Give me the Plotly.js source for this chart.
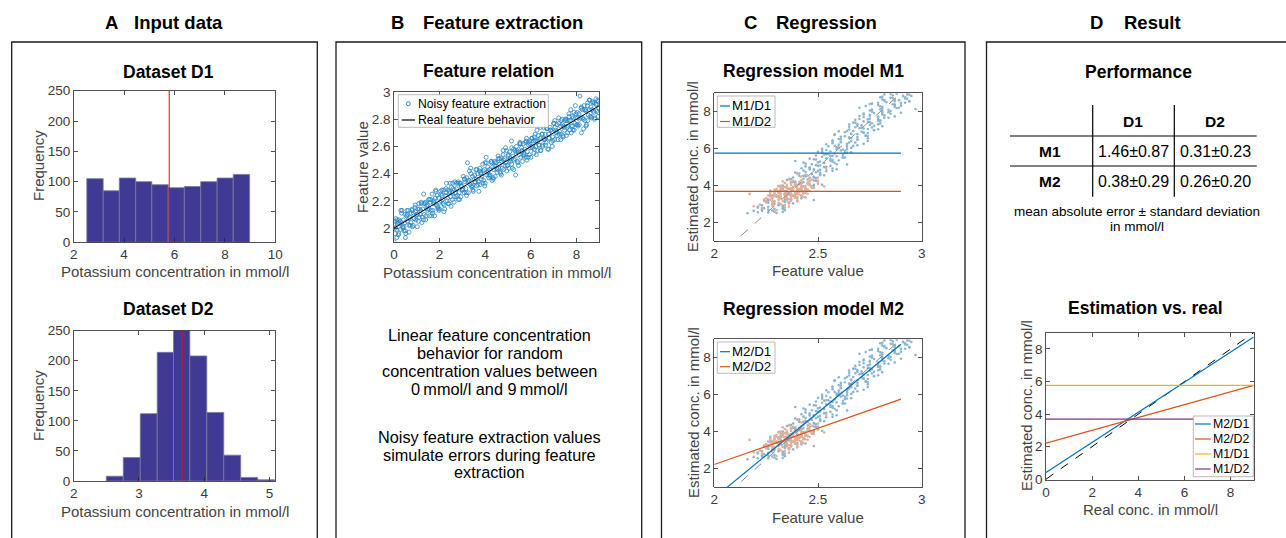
<!DOCTYPE html>
<html><head><meta charset="utf-8">
<script src="https://cdn.plot.ly/plotly-3.0.1.min.js"></script>
<style>html,body{margin:0;padding:0;background:#fff;}#chart{width:1286px;height:538px;}</style>
</head><body><div id="chart"></div>
<script>
// ---------------- DATA ----------------
// Histogram D1 (uniform concentrations)
const d1Edges  = [2.52, 3.17, 3.81, 4.46, 5.10, 5.75, 6.39, 7.04, 7.69, 8.33, 8.98];
const d1Counts = [105, 85, 106, 100, 95, 90, 92, 100, 106, 112];
const d1Mean   = 5.79;
// Histogram D2 (normal concentrations)
const d2Edges  = [2.50, 2.76, 3.02, 3.28, 3.53, 3.78, 4.04, 4.30, 4.56, 4.82, 5.08];
const d2Counts = [8, 39, 112, 214, 254, 208, 114, 43, 6, 2];
const d2Mean   = 3.66;

// Feature relation: noisy extraction (concentration, feature value)
const featConc = [
0.02,0.05,0.08,0.12,0.15,0.19,0.22,0.26,0.29,0.33,
0.37,0.41,0.44,0.48,0.52,0.55,0.59,0.63,0.66,0.70,
0.74,0.78,0.81,0.85,0.89,0.92,0.96,1.00,1.04,1.07,
1.11,1.15,1.19,1.22,1.26,1.30,1.33,1.37,1.41,1.44,
1.48,1.52,1.56,1.59,1.63,1.67,1.70,1.74,1.78,1.81,
1.85,1.89,1.93,1.96,2.00,2.04,2.07,2.11,2.15,2.19,
2.22,2.26,2.30,2.33,2.37,2.41,2.44,2.48,2.52,2.56,
2.59,2.63,2.67,2.70,2.74,2.78,2.81,2.85,2.89,2.93,
2.96,3.00,3.04,3.07,3.11,3.15,3.19,3.22,3.26,3.30,
3.33,3.37,3.41,3.44,3.48,3.52,3.56,3.59,3.63,3.67,
3.70,3.74,3.78,3.81,3.85,3.89,3.93,3.96,4.00,4.04,
4.07,4.11,4.15,4.19,4.22,4.26,4.30,4.33,4.37,4.41,
4.44,4.48,4.52,4.56,4.59,4.63,4.67,4.70,4.74,4.78,
4.81,4.85,4.89,4.93,4.96,5.00,5.04,5.07,5.11,5.15,
5.19,5.22,5.26,5.30,5.33,5.37,5.41,5.44,5.48,5.52,
5.56,5.59,5.63,5.67,5.70,5.74,5.78,5.81,5.85,5.89,
5.93,5.96,6.00,6.04,6.07,6.11,6.15,6.19,6.22,6.26,
6.30,6.33,6.37,6.41,6.44,6.48,6.52,6.56,6.59,6.63,
6.67,6.70,6.74,6.78,6.81,6.85,6.89,6.93,6.96,7.00,
7.04,7.07,7.11,7.15,7.19,7.22,7.26,7.30,7.33,7.37,
7.41,7.44,7.48,7.52,7.56,7.59,7.63,7.67,7.70,7.74,
7.78,7.81,7.85,7.89,7.93,7.96,8.00,8.04,8.07,8.11,
8.15,8.19,8.22,8.26,8.30,8.33,8.37,8.41,8.44,8.48,
8.52,8.56,8.59,8.63,8.67,8.70,8.74,8.78,8.81,8.85,
8.89,8.93,8.96,0.00,0.50,
0.06,0.13,0.21,0.28,0.35,0.43,0.50,0.57,0.65,0.72,
0.80,0.87,0.94,1.02,1.09,1.17,1.24,1.31,1.39,1.46,
1.54,1.61,1.69,1.76,1.83,1.91,1.98,2.06,2.13,2.20,
2.28,2.35,2.43,2.50,2.57,2.65,2.72,2.80,2.87,2.94,
3.02,3.09,3.17,3.24,3.31,3.39,3.46,3.54,3.61,3.68,
3.76,3.83,3.91,3.98,4.05,4.13,4.20,4.28,4.35,4.42,
4.50,4.57,4.65,4.72,4.79,4.87,4.94,5.02,5.09,5.16,
5.24,5.31,5.39,5.46,5.53,5.61,5.68,5.76,5.83,5.90,
5.98,6.05,6.13,6.20,6.27,6.35,6.42,6.50,6.57,6.64,
6.72,6.79,6.87,6.94,7.01,7.09,7.16,7.24,7.31,7.38,
7.46,7.53,7.61,7.68,7.75,7.83,7.90,7.98,8.05,8.12,
8.20,8.27,8.35,8.42,8.49,8.57,8.64,8.72,8.79,8.86,
8.94,8.98,
0.03,0.12,0.21,0.30,0.39,0.48,0.57,0.66,0.75,0.84,
0.93,1.02,1.11,1.20,1.29,1.38,1.47,1.56,1.65,1.74,
1.83,1.92,2.01,2.10,2.19,2.28,2.37,2.46,2.55,2.64,
2.73,2.82,2.91,3.00,3.09,3.18,3.27,3.36,3.45,3.54,
3.63,3.72,3.81,3.90,3.99,4.08,4.17,4.26,4.35,4.44,
4.53,4.62,4.71,4.80,4.89,4.98,5.07,5.16,5.25,5.34,
5.43,5.52,5.61,5.70,5.79,5.88,5.97,6.06,6.15,6.24,
6.33,6.42,6.51,6.60,6.69,6.78,6.87,6.96,7.05,7.14,
7.23,7.32,7.41,7.50,7.59,7.68,7.77,7.86,7.95,8.04,
8.13,8.22,8.31,8.40,8.49,8.58,8.67,8.76,8.85,8.94];
const featValue = [
2.03,1.96,2.07,1.99,2.03,1.95,2.06,2.03,1.99,2.11,
2.01,2.06,1.98,2.10,1.96,2.09,2.05,2.13,2.02,2.08,
2.04,2.13,2.01,2.11,2.07,2.15,2.06,2.10,2.14,2.05,
2.14,2.10,2.19,2.04,2.14,2.25,2.10,2.19,2.09,2.16,
2.14,2.21,2.09,2.19,2.13,2.25,2.13,2.18,2.09,2.22,
2.17,2.24,2.14,2.22,2.14,2.27,2.20,2.24,2.18,2.28,
2.14,2.24,2.33,2.20,2.28,2.18,2.26,2.23,2.30,2.21,
2.29,2.19,2.34,2.26,2.29,2.24,2.34,2.26,2.33,2.23,
2.31,2.28,2.38,2.26,2.34,2.29,2.37,2.48,2.26,2.35,
2.32,2.40,2.30,2.38,2.27,2.36,2.34,2.43,2.31,2.40,
2.34,2.42,2.32,2.40,2.38,2.47,2.35,2.43,2.33,2.52,
2.39,2.45,2.37,2.43,2.39,2.49,2.35,2.45,2.43,2.49,
2.38,2.48,2.41,2.53,2.44,2.47,2.40,2.51,2.44,2.54,
2.43,2.51,2.48,2.57,2.46,2.53,2.44,2.56,2.49,2.64,
2.44,2.53,2.50,2.57,2.39,2.60,2.49,2.56,2.54,2.62,
2.52,2.59,2.49,2.62,2.55,2.58,2.52,2.66,2.56,2.63,
2.54,2.62,2.52,2.66,2.60,2.64,2.58,2.69,2.60,2.64,
2.57,2.68,2.61,2.66,2.57,2.69,2.60,2.74,2.65,2.69,
2.63,2.73,2.58,2.69,2.66,2.74,2.63,2.71,2.67,2.77,
2.65,2.74,2.70,2.76,2.65,2.81,2.71,2.75,2.69,2.80,
2.68,2.75,2.72,2.80,2.68,2.79,2.75,2.84,2.72,2.79,
2.75,2.82,2.72,2.85,2.77,2.81,2.76,2.85,2.75,2.84,
2.97,2.81,2.70,2.87,2.80,2.90,2.79,2.86,2.76,2.90,
2.83,2.94,2.82,2.89,2.81,2.93,2.86,2.92,2.81,2.91,
2.86,2.94,2.85,1.90,1.93,
2.00,2.06,1.96,2.05,2.13,2.01,1.98,2.10,2.07,2.02,
2.14,2.07,2.12,2.01,2.18,2.13,2.08,2.18,2.06,2.17,
2.14,2.21,2.11,2.20,2.27,2.16,2.13,2.25,2.21,2.17,
2.29,2.22,2.27,2.16,2.33,2.28,2.23,2.33,2.21,2.31,
2.29,2.36,2.26,2.34,2.42,2.31,2.28,2.39,2.36,2.32,
2.44,2.36,2.42,2.31,2.48,2.42,2.38,2.48,2.36,2.46,
2.44,2.51,2.41,2.49,2.57,2.46,2.42,2.54,2.51,2.47,
2.58,2.51,2.57,2.46,2.62,2.57,2.53,2.63,2.50,2.61,
2.59,2.66,2.55,2.64,2.72,2.61,2.57,2.69,2.66,2.61,
2.73,2.66,2.72,2.60,2.77,2.72,2.68,2.77,2.65,2.76,
2.74,2.80,2.70,2.79,2.87,2.75,2.72,2.84,2.81,2.76,
2.88,2.81,2.87,2.75,2.92,2.87,2.82,2.92,2.80,2.91,
2.93,2.88,
2.05,1.93,2.04,2.13,2.00,2.04,2.13,1.97,2.11,2.02,
2.17,2.10,2.08,2.18,2.06,2.18,2.13,2.21,2.09,2.19,
2.28,2.15,2.19,2.28,2.12,2.26,2.18,2.33,2.26,2.23,
2.33,2.21,2.33,2.28,2.36,2.24,2.35,2.44,2.31,2.34,
2.43,2.27,2.41,2.33,2.48,2.41,2.39,2.49,2.37,2.48,
2.43,2.51,2.39,2.50,2.59,2.46,2.50,2.59,2.43,2.56,
2.48,2.63,2.56,2.54,2.64,2.52,2.64,2.59,2.67,2.54,
2.65,2.74,2.61,2.65,2.74,2.58,2.72,2.64,2.79,2.71,
2.69,2.79,2.67,2.79,2.74,2.82,2.70,2.81,2.90,2.76,
2.80,2.89,2.73,2.87,2.79,2.94,2.87,2.85,2.95,2.82];
// Real (noise-free) feature behaviour
const realConc  = [0, 9];
const realValue = [2.0, 2.9];

// Dataset D2 samples (concentration, noisy feature value)
const d2Conc = [
2.68,2.80,2.86,2.91,2.95,2.98,3.01,3.03,3.05,3.07,
3.09,3.10,3.12,3.14,3.15,3.17,3.18,3.20,3.21,3.23,
3.24,3.25,3.26,3.27,3.29,3.30,3.30,3.31,3.32,3.33,
3.34,3.35,3.36,3.36,3.37,3.38,3.39,3.40,3.41,3.41,
3.42,3.43,3.44,3.45,3.45,3.46,3.47,3.48,3.48,3.49,
3.50,3.50,3.51,3.52,3.52,3.53,3.54,3.54,3.55,3.56,
3.56,3.57,3.58,3.58,3.59,3.60,3.60,3.61,3.62,3.62,
3.63,3.64,3.64,3.65,3.66,3.66,3.67,3.68,3.68,3.69,
3.70,3.70,3.71,3.72,3.72,3.73,3.74,3.74,3.75,3.76,
3.76,3.77,3.77,3.78,3.79,3.80,3.80,3.81,3.82,3.83,
3.84,3.84,3.85,3.86,3.87,3.88,3.88,3.89,3.90,3.91,
3.92,3.92,3.93,3.94,3.95,3.96,3.96,3.97,3.98,3.99,
4.00,4.01,4.02,4.03,4.04,4.05,4.07,4.08,4.10,4.11,
4.13,4.14,4.16,4.17,4.19,4.20,4.22,4.23,4.25,4.26,
4.28,4.29,4.32,4.36,4.40,4.44,4.49,4.54,4.63,4.90,
3.55,2.88,3.95];
const d2Feat = [
2.30,2.23,2.36,2.28,2.34,2.22,2.32,2.36,2.28,2.31,
2.25,2.36,2.29,2.40,2.28,2.33,2.25,2.35,2.40,2.27,
2.31,2.37,2.24,2.36,2.28,2.40,2.32,2.37,2.25,2.35,
2.39,2.31,2.34,2.28,2.39,2.32,2.43,2.30,2.35,2.27,
2.37,2.42,2.29,2.34,2.39,2.26,2.38,2.30,2.42,2.34,
2.39,2.27,2.37,2.41,2.32,2.35,2.29,2.40,2.34,2.45,
2.32,2.37,2.29,2.39,2.44,2.31,2.35,2.40,2.27,2.39,
2.31,2.43,2.35,2.41,2.29,2.39,2.43,2.34,2.37,2.31,
2.42,2.35,2.46,2.33,2.38,2.30,2.40,2.45,2.33,2.37,
2.42,2.29,2.41,2.33,2.45,2.37,2.42,2.30,2.40,2.44,
2.35,2.38,2.33,2.44,2.37,2.48,2.35,2.40,2.32,2.42,
2.47,2.34,2.38,2.43,2.31,2.43,2.35,2.47,2.39,2.44,
2.32,2.42,2.46,2.37,2.40,2.35,2.46,2.39,2.50,2.37,
2.42,2.34,2.45,2.50,2.37,2.41,2.46,2.33,2.46,2.38,
2.50,2.42,2.47,2.36,2.46,2.50,2.42,2.45,2.40,2.54,
2.17,2.19,2.53];

// Regression model outputs, evaluated at feature values 2.0 and 2.9
// (= real concentrations 0 and 9 mmol/l)
const featEnds = [2.0, 2.9];
const concEnds = [0, 9];
const m1d1Est = [5.76, 5.76];
const m1d2Est = [3.69, 3.69];
const m2d1Est = [0.41, 8.73];
const m2d2Est = [2.22, 5.76];

// Performance table
const tableCols = ['D1', 'D2'];
const tableRows = ['M1', 'M2'];
const tableVals = [['1.46±0.87', '0.31±0.23'], ['0.38±0.29', '0.26±0.20']];

// Axis ticks
const d1Ticks = [2, 4, 6, 8, 10];
const d2Ticks = [2, 3, 4, 5];
const freqTicks = [0, 50, 100, 150, 200, 250];
const concTicks = [0, 2, 4, 6, 8];
const featTicks = [2, 2.2, 2.4, 2.6, 2.8, 3];
const regXTicks = [2, 2.5, 3];
const regYTicks = [2, 4, 6, 8];
const estYTicks = [0, 2, 4, 6, 8];

// ---------------- LAYOUT HELPERS ----------------
const W = 1286, H = 538;
const PX = x => x / W, PY = y => 1 - y / H;
const domX = (a, b) => [a / W, b / W];
const domY = (top, bottom) => [1 - bottom / H, 1 - top / H];
const FONT = '"Liberation Sans", Arial, Helvetica, sans-serif';
const BLUE = '#0072BD', ORANGE = '#D95319', YELLOW = '#EDB120', PURPLE = '#7E2F8E';

const centers = e => e.slice(0, -1).map((v, i) => (v + e[i + 1]) / 2);
const widths  = e => e.slice(0, -1).map((v, i) => e[i + 1] - v);

function ax(extra) {
  return Object.assign({
    showline: true, linecolor: '#262626', linewidth: 0.8, mirror: 'ticks',
    ticks: 'inside', ticklen: 4, tickcolor: '#262626', tickwidth: 0.8,
    showgrid: false, zeroline: false, fixedrange: true,
    tickfont: {family: FONT, size: 13.5, color: '#3a3a3a'}
  }, extra);
}

const d1FeatVals = featValue.filter((v, i) => featConc[i] >= 2.5);
const d1ConcVals = featConc.filter(v => v >= 2.5);

const barStyle = {color: '#3f3a94', line: {color: '#7a7a9c', width: 0.8}};
const ptsD1 = {size: 2.6, color: '#8bb6d0', symbol: 'circle'};
const ptsD2 = {size: 2.6, color: '#e3ae97', symbol: 'circle'};

const traces = [
  // A: histograms
  {type: 'bar', x: centers(d1Edges), y: d1Counts, width: widths(d1Edges), marker: barStyle,
   xaxis: 'x', yaxis: 'y', showlegend: false, hoverinfo: 'skip'},
  {type: 'scatter', mode: 'lines', x: [d1Mean, d1Mean], y: [0, 250], line: {color: '#ff0000', width: 1},
   xaxis: 'x', yaxis: 'y', showlegend: false},
  {type: 'bar', x: centers(d2Edges), y: d2Counts, width: widths(d2Edges), marker: barStyle,
   xaxis: 'x2', yaxis: 'y2', showlegend: false, hoverinfo: 'skip'},
  {type: 'scatter', mode: 'lines', x: [d2Mean, d2Mean], y: [0, 250], line: {color: '#ff0000', width: 1},
   xaxis: 'x2', yaxis: 'y2', showlegend: false},
  // B: feature relation
  {type: 'scatter', mode: 'markers', x: featConc, y: featValue, name: 'Noisy feature extraction',
   marker: {symbol: 'circle-open', size: 4, color: BLUE, line: {width: 0.8}}, opacity: 0.85,
   xaxis: 'x3', yaxis: 'y3', showlegend: false},
  {type: 'scatter', mode: 'lines', x: realConc, y: realValue, name: 'Real feature behavior',
   line: {color: '#000000', width: 1}, xaxis: 'x3', yaxis: 'y3', showlegend: false},
  // C: regression M1
  {type: 'scatter', mode: 'markers', x: d1FeatVals, y: d1ConcVals, marker: ptsD1,
   xaxis: 'x4', yaxis: 'y4', showlegend: false},
  {type: 'scatter', mode: 'markers', x: d2Feat, y: d2Conc, marker: ptsD2,
   xaxis: 'x4', yaxis: 'y4', showlegend: false},
  {type: 'scatter', mode: 'lines', x: featEnds, y: concEnds, line: {color: '#8c8c8c', width: 1, dash: 'dash'},
   xaxis: 'x4', yaxis: 'y4', showlegend: false},
  {type: 'scatter', mode: 'lines', x: featEnds, y: m1d1Est, name: 'M1/D1', line: {color: BLUE, width: 1.2},
   xaxis: 'x4', yaxis: 'y4', showlegend: false},
  {type: 'scatter', mode: 'lines', x: featEnds, y: m1d2Est, name: 'M1/D2', line: {color: ORANGE, width: 1.2},
   xaxis: 'x4', yaxis: 'y4', showlegend: false},
  // C: regression M2
  {type: 'scatter', mode: 'markers', x: d1FeatVals, y: d1ConcVals, marker: ptsD1,
   xaxis: 'x5', yaxis: 'y5', showlegend: false},
  {type: 'scatter', mode: 'markers', x: d2Feat, y: d2Conc, marker: ptsD2,
   xaxis: 'x5', yaxis: 'y5', showlegend: false},
  {type: 'scatter', mode: 'lines', x: featEnds, y: concEnds, line: {color: '#8c8c8c', width: 1, dash: 'dash'},
   xaxis: 'x5', yaxis: 'y5', showlegend: false},
  {type: 'scatter', mode: 'lines', x: featEnds, y: m2d1Est, name: 'M2/D1', line: {color: BLUE, width: 1.2},
   xaxis: 'x5', yaxis: 'y5', showlegend: false},
  {type: 'scatter', mode: 'lines', x: featEnds, y: m2d2Est, name: 'M2/D2', line: {color: ORANGE, width: 1.2},
   xaxis: 'x5', yaxis: 'y5', showlegend: false},
  // D: estimation vs real
  {type: 'scatter', mode: 'lines', x: concEnds, y: concEnds, line: {color: '#000000', width: 1, dash: 'dash'},
   xaxis: 'x6', yaxis: 'y6', showlegend: false},
  {type: 'scatter', mode: 'lines', x: concEnds, y: m2d1Est, name: 'M2/D1', line: {color: BLUE, width: 1.2},
   xaxis: 'x6', yaxis: 'y6', showlegend: false},
  {type: 'scatter', mode: 'lines', x: concEnds, y: m2d2Est, name: 'M2/D2', line: {color: ORANGE, width: 1.2},
   xaxis: 'x6', yaxis: 'y6', showlegend: false},
  {type: 'scatter', mode: 'lines', x: concEnds, y: m1d1Est, name: 'M1/D1', line: {color: YELLOW, width: 1.2},
   xaxis: 'x6', yaxis: 'y6', showlegend: false},
  {type: 'scatter', mode: 'lines', x: concEnds, y: m1d2Est, name: 'M1/D2', line: {color: PURPLE, width: 1.2},
   xaxis: 'x6', yaxis: 'y6', showlegend: false}
];

// ---------------- ANNOTATIONS ----------------
const ann = [];
function txt(x, y, text, size, opts) {
  ann.push(Object.assign({xref: 'paper', yref: 'paper', x: PX(x), y: PY(y), text: text, showarrow: false,
    xanchor: 'center', yanchor: 'middle', font: {family: FONT, size: size, color: '#000'}}, opts || {}));
}
const B = s => '<b>' + s + '</b>';
// Panel headers
txt(111, 22, B('A'), 18.5); txt(178, 22, B('Input data'), 18.5);
txt(397, 22, B('B'), 18.5); txt(503, 22, B('Feature extraction'), 18.5);
txt(750, 22, B('C'), 18.5); txt(826, 22, B('Regression'), 18.5);
txt(1096, 22, B('D'), 18.5); txt(1152, 22, B('Result'), 18.5);
// Subplot titles
txt(168, 72, B('Dataset D1'), 17.5);
txt(168, 309, B('Dataset D2'), 17.5);
txt(488, 71, B('Feature relation'), 17.5);
txt(813, 71, B('Regression model M1'), 17.5);
txt(813, 309, B('Regression model M2'), 17.5);
txt(1138, 72, B('Performance'), 17.5);
txt(1145, 308, B('Estimation vs. real'), 17.5);
// Axis titles
const axT = (x, y, t, rot) => txt(x, y, t, 15, Object.assign({font: {family: FONT, size: 15, color: '#444'}}, rot ? {textangle: -90} : {}));
axT(174.5, 271, 'Potassium concentration in mmol/l');
axT(38, 166, 'Frequency', true);
axT(174.5, 511, 'Potassium concentration in mmol/l');
axT(38, 406, 'Frequency', true);
axT(497, 272, 'Potassium concentration in mmol/l');
axT(363, 167, 'Feature value', true);
axT(818, 270, 'Feature value');
axT(693, 167, 'Estimated conc. in mmol/l', true);
axT(818, 517, 'Feature value');
axT(693, 413, 'Estimated conc. in mmol/l', true);
axT(1150, 509, 'Real conc. in mmol/l');
axT(1026, 406, 'Estimated conc. in mmol/l', true);
// Panel B description
const bLines1 = ['Linear feature concentration', 'behavior for random', 'concentration values between', '0\u2009mmol/l and 9\u2009mmol/l'];
const bLines2 = ['Noisy feature extraction values', 'simulate errors during feature', 'extraction'];
bLines1.forEach((s, i) => txt(490, 335 + i * 18, s, 16.3));
bLines2.forEach((s, i) => txt(490, 437 + i * 17.7, s, 16.3));
// Table
const colX = [1133, 1215], rowY = [151, 181.7];
tableCols.forEach((c, j) => txt(colX[j], 121.7, B(c), 15.5));
tableRows.forEach((r, i) => {
  txt(1050, rowY[i], B(r), 15.5);
  tableVals[i].forEach((v, j) => txt(colX[j], rowY[i], v, 16));
});
txt(1137, 211, 'mean absolute error ± standard deviation', 13.5);
txt(1137, 226, 'in mmol/l', 13.5);

// ---------------- SHAPES ----------------
const shapes = [];
function rect(x0, y0, x1, y1, lineColor, lw, fill) {
  shapes.push({type: 'rect', xref: 'paper', yref: 'paper', x0: PX(x0), x1: PX(x1), y0: PY(y1), y1: PY(y0),
    line: {color: lineColor || '#1a1a1a', width: lw || 1.3}, fillcolor: fill || 'rgba(0,0,0,0)', layer: 'above'});
}
function seg(x0, y0, x1, y1, color, lw) {
  shapes.push({type: 'line', xref: 'paper', yref: 'paper', x0: PX(x0), x1: PX(x1), y0: PY(y0), y1: PY(y1),
    line: {color: color || '#000', width: lw || 1.2}, layer: 'above'});
}
rect(11.7, 42, 317.3, 545);
rect(336, 42, 641.7, 545);
rect(661.5, 42, 965, 545);
rect(986.5, 42, 1300, 545);
seg(1092.7, 105, 1092.7, 196.7);
seg(1174.3, 105, 1174.3, 196.7);
seg(1010, 136, 1256.7, 136);
seg(1010, 166, 1256.7, 166);

// Legends (MATLAB-style compact boxes)
function legendBox(box, entries, sampleX, textX, size) {
  rect(box[0], box[1], box[2], box[3], '#a8a8a8', 0.8, '#ffffff');
  entries.forEach(e => {
    if (e.marker) {
      const cx = (sampleX[0] + sampleX[1]) / 2, r = 2;
      shapes.push({type: 'circle', xref: 'paper', yref: 'paper', x0: PX(cx - r), x1: PX(cx + r),
        y0: PY(e.y + r), y1: PY(e.y - r), line: {color: e.color, width: 0.8}, layer: 'above'});
    } else {
      seg(sampleX[0], e.y, sampleX[1], e.y, e.color, 1.2);
    }
    txt(textX, e.y, e.label, size, {xanchor: 'left'});
  });
}
legendBox([398.3, 94.7, 548.3, 127.3], [
  {label: 'Noisy feature extraction', color: BLUE, y: 103.7, marker: true},
  {label: 'Real feature behavior', color: '#000', y: 120}], [401.7, 415], 415.5, 12.2);
legendBox([717.3, 96, 775, 127.3], [
  {label: 'M1/D1', color: BLUE, y: 106},
  {label: 'M1/D2', color: ORANGE, y: 121.5}], [720, 730], 729.5, 13.3);
legendBox([717.3, 342, 775, 373.3], [
  {label: 'M2/D1', color: BLUE, y: 351.7},
  {label: 'M2/D2', color: ORANGE, y: 366.7}], [720, 730], 729.5, 13.3);
legendBox([1193.3, 416, 1253.3, 476.7], [
  {label: 'M2/D1', color: BLUE, y: 424},
  {label: 'M2/D2', color: ORANGE, y: 439},
  {label: 'M1/D1', color: YELLOW, y: 454},
  {label: 'M1/D2', color: PURPLE, y: 469}], [1195, 1210.7], 1210.5, 12.3);

const layout = {
  width: W, height: H, margin: {l: 0, r: 0, t: 0, b: 0},
  paper_bgcolor: '#ffffff', plot_bgcolor: '#ffffff', showlegend: false, bargap: 0,
  font: {family: FONT},
  xaxis:  ax({domain: domX(73.7, 275.3), range: [2, 10], tickvals: d1Ticks, anchor: 'y'}),
  yaxis:  ax({domain: domY(90.7, 242.3), range: [0, 250], tickvals: freqTicks, anchor: 'x'}),
  xaxis2: ax({domain: domX(73.7, 275.3), range: [2, 5.09], tickvals: d2Ticks, anchor: 'y2'}),
  yaxis2: ax({domain: domY(330.7, 481), range: [0, 250], tickvals: freqTicks, anchor: 'x2'}),
  xaxis3: ax({domain: domX(394, 599.3), range: [0, 9], tickvals: concTicks, anchor: 'y3'}),
  yaxis3: ax({domain: domY(92, 241.7), range: [1.9, 3], tickvals: featTicks, anchor: 'x3'}),
  xaxis4: ax({domain: domX(714.3, 921.7), range: [2, 3], tickvals: regXTicks, anchor: 'y4'}),
  yaxis4: ax({domain: domY(93.3, 241), range: [1, 9], tickvals: regYTicks, anchor: 'x4'}),
  xaxis5: ax({domain: domX(714.3, 921.7), range: [2, 3], tickvals: regXTicks, anchor: 'y5'}),
  yaxis5: ax({domain: domY(339.3, 487), range: [1, 9], tickvals: regYTicks, anchor: 'x5'}),
  xaxis6: ax({domain: domX(1046, 1253.7), range: [0, 9], tickvals: concTicks, anchor: 'y6'}),
  yaxis6: ax({domain: domY(332.7, 480), range: [-0.05, 9], tickvals: estYTicks, anchor: 'x6'}),
  annotations: ann,
  shapes: shapes
};

Plotly.newPlot('chart', traces, layout, {staticPlot: true, displayModeBar: false});
</script>
</body></html>
